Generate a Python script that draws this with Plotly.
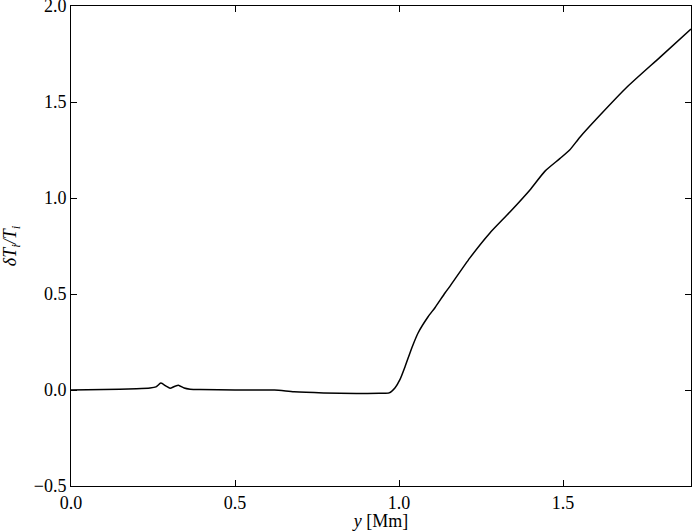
import plotly.graph_objects as go

# values
y_mm = [0.0, 0.1, 0.2, 0.241, 0.259, 0.274, 0.29, 0.302, 0.317, 0.329, 0.345, 0.363,
        0.393, 0.5, 0.62, 0.68, 0.77, 0.87, 0.94, 0.97, 0.988, 1.003, 1.018, 1.040,
        1.058, 1.088, 1.110, 1.140, 1.155, 1.216, 1.277, 1.338, 1.399, 1.445, 1.49,
        1.52, 1.552, 1.613, 1.695, 1.796, 1.89]
dT = [0.0, 0.002, 0.006, 0.01, 0.016, 0.036, 0.02, 0.009, 0.02, 0.024, 0.01, 0.004,
      0.002, 0.0, 0.0, -0.009, -0.015, -0.018, -0.017, -0.015, 0.012, 0.055, 0.12, 0.224,
      0.297, 0.38, 0.43, 0.505, 0.54, 0.688, 0.818, 0.927, 1.042, 1.14, 1.205,
      1.25, 1.318, 1.432, 1.578, 1.734, 1.88]

xticks = [0.0, 0.5, 1.0, 1.5]
yticks = [-0.5, 0.0, 0.5, 1.0, 1.5, 2.0]

fig = go.Figure()
fig.add_trace(go.Scatter(x=y_mm, y=dT, mode='lines',
                         line=dict(color='black', width=1.5, shape='spline', smoothing=0.6)))

serif = dict(family='Liberation Serif, DejaVu Serif, serif', size=18, color='black')

axis_common = dict(showline=True, linecolor='black', linewidth=1, mirror='ticks',
                   ticks='inside', ticklen=6, tickcolor='black', showgrid=False,
                   zeroline=False, tickfont=serif, automargin=False,
                   ticklabeloverflow='allow')

fig.update_layout(
    width=693, height=531,
    margin=dict(l=71, r=2, t=6, b=45),
    paper_bgcolor='white', plot_bgcolor='white',
    showlegend=False,
    font=serif,
    xaxis=dict(range=[0, 1.89], tickvals=xticks,
               ticktext=[f'{v:.1f}' for v in xticks],
               title=dict(text='<i>y</i> [Mm]', font=serif, standoff=0),
               **axis_common),
    yaxis=dict(range=[-0.5, 2.0], tickvals=yticks,
               ticktext=[f'{v:.1f}'.replace('-', '\u2212') for v in yticks],
               title=dict(text='<i>δT<sub>i</sub>/T<sub>i</sub></i>', font=serif, standoff=12),
               **axis_common),
)

fig.write_html("out.html", config={'displayModeBar': False},
               post_script="document.body.style.margin='0';")
